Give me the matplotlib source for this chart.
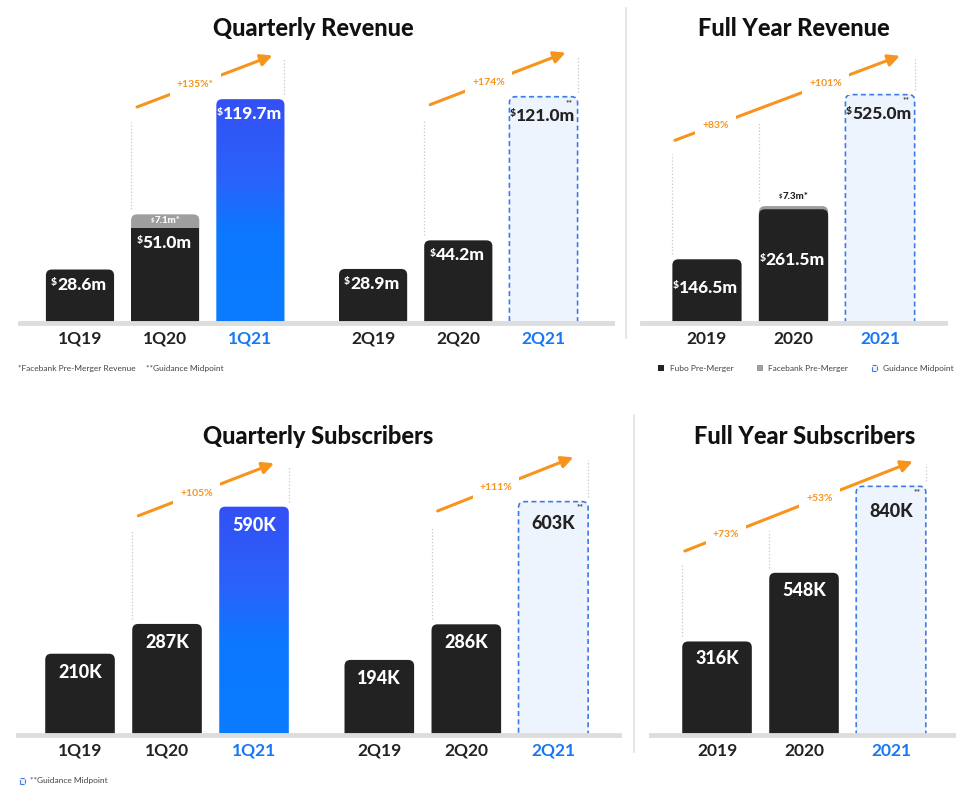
import matplotlib.pyplot as plt
import numpy as np
from matplotlib.patches import FancyBboxPatch, Patch
from matplotlib.colors import LinearSegmentedColormap
from matplotlib.lines import Line2D

plt.rcParams['font.family'] = ['Lato', 'DejaVu Sans']

# ---- data ----
q_rev_labels = ['1Q19', '1Q20', '1Q21', '2Q19', '2Q20', '2Q21']
q_rev_fubo = [28.6, 51.0, 119.7, 28.9, 44.2, 121.0]
q_rev_facebank = [0, 7.1, 0, 0, 0, 0]
q_rev_growth = ['+135%*', '+174%']

fy_rev_labels = ['2019', '2020', '2021']
fy_rev_fubo = [146.5, 261.5, 525.0]
fy_rev_facebank = [0, 7.3, 0]
fy_rev_growth = ['+83%', '+101%']

q_sub_labels = ['1Q19', '1Q20', '1Q21', '2Q19', '2Q20', '2Q21']
q_sub_values = [210, 287, 590, 194, 286, 603]
q_sub_growth = ['+105%', '+111%']

fy_sub_labels = ['2019', '2020', '2021']
fy_sub_values = [316, 548, 840]
fy_sub_growth = ['+73%', '+53%']

# ---- style ----
W, H = 956, 790
BLACK = '#222222'
GREY = '#9E9E9E'
ORANGE = '#F7941D'
BLUE_TXT = '#1877F2'
GUIDE_FC = '#EEF4FD'
GUIDE_EC = '#3D7BE6'
q_kinds = ['fubo', 'fubo', 'actual', 'fubo', 'fubo', 'guide']
fy_kinds = ['fubo', 'fubo', 'guide']
q_pos = [0, 1, 2, 3.44, 4.44, 5.44]
fy_pos = [0, 1, 2]
grad = LinearSegmentedColormap.from_list(
    'g', [(0, '#3450F5'), (0.35, '#2A62FB'), (0.6, '#0C78FF'), (1, '#0A7CFF')])

fig = plt.figure(figsize=(W / 100, H / 100), dpi=100)


def pt(px):
    return px * 0.72


def make_ax(x0, x1, base, top, xlim, scale):
    ax = fig.add_axes([x0 / W, 1 - base / H, (x1 - x0) / W, (base - top) / H])
    ax.axis('off')
    ax.lims = (xlim, (0, (base - top) / scale))
    ax.ppx = (x1 - x0) / (xlim[1] - xlim[0])
    ax.scale = scale
    return ax


def value_label(ax, x, y, text, dollar, color, size, off, va='top'):
    t = ax.annotate(text, xy=(x, y), xytext=(pt(2) if dollar else 0, off),
                    textcoords='offset points', ha='center', va=va,
                    color=color, fontsize=size, fontweight='black', zorder=6)
    if dollar:
        ax.annotate('$', xy=(0, 1), xycoords=t, xytext=(-0.3, -1),
                    textcoords='offset points', ha='right', va='top',
                    color=color, fontsize=size * 0.6, fontweight='black', zorder=6)
    return t


def draw_bars(ax, pos, fubo, extra, kinds, labels, dollar, fmt, size,
              off, guide_off, mid=False):
    bw = 0.8
    r = 6 / ax.ppx
    asp = ax.ppx / ax.scale
    for x, v, e, k, lab in zip(pos, fubo, extra, kinds, labels):
        total = v + e
        box = dict(boxstyle=f'round,pad=0,rounding_size={r}', mutation_aspect=asp)
        if k == 'guide':
            p = FancyBboxPatch((x - bw / 2, -r * asp), bw, total + r * asp,
                               fc=GUIDE_FC, ec=GUIDE_EC, lw=1.2, ls=(0, (3, 2)),
                               zorder=2, **box)
            ax.add_patch(p)
        elif k == 'actual':
            p = FancyBboxPatch((x - bw / 2, -r * asp), bw, total + r * asp,
                               fc='none', ec='none', zorder=2, **box)
            ax.add_patch(p)
            g = np.linspace(0, 1, 256).reshape(-1, 1)
            im = ax.imshow(g, extent=[x - bw / 2, x + bw / 2, 0, total],
                           aspect='auto', cmap=grad, origin='upper', zorder=2)
            im.set_clip_path(p)
        else:
            if e > 0:
                ax.add_patch(FancyBboxPatch((x - bw / 2, -r * asp), bw, total + r * asp,
                                            fc=GREY, ec='none', zorder=2, **box))
                if e * ax.scale > 8:
                    ax.bar(x, v, width=bw, color=BLACK, zorder=2)
                else:
                    ax.add_patch(FancyBboxPatch((x - bw / 2, -r * asp), bw, v + r * asp,
                                                fc=BLACK, ec='none', zorder=2, **box))
            else:
                ax.add_patch(FancyBboxPatch((x - bw / 2, -r * asp), bw, v + r * asp,
                                            fc=BLACK, ec='none', zorder=2, **box))
        # labels
        txt = fmt.format(v)
        if k == 'guide':
            value_label(ax, x, total, txt, dollar, BLACK, size, pt(guide_off))
            ax.annotate('**', xy=(x + bw / 2, total), xytext=(pt(-5), pt(-2)),
                        textcoords='offset points', ha='right', va='top',
                        color='#444444', fontsize=6, fontweight='bold', zorder=6)
        elif mid and k == 'fubo':
            value_label(ax, x, v * 0.55, txt, dollar, 'white', size, 0, va='center')
        else:
            value_label(ax, x, v, txt, dollar, 'white', size, pt(off))
        if e > 0:
            etxt = fmt.format(e) + '*'
            if e * ax.scale > 8:
                value_label(ax, x, v + e / 2, etxt, dollar, 'white', 7, 0, va='center')
            else:
                value_label(ax, x, total, etxt, dollar, BLACK, 7, pt(5), va='bottom')
        col = BLUE_TXT if k in ('actual', 'guide') else BLACK
        ax.annotate(lab, xy=(x, 0), xytext=(0, pt(-16)), textcoords='offset points',
                    ha='center', va='center', color=col, fontsize=12.5, fontweight='bold')
    ax.axhline(0, color='#DDDDDD', lw=3.5, clip_on=False, zorder=3)


def growth(ax, pos, totals, i0, i1, dx0, f0, dx1, f1, labels, ts, full=False):
    M = max(totals[i0:i1 + 1])
    xa, ya = pos[i0] + dx0, f0 * M
    xb, yb = pos[i1] + dx1, f1 * M
    ax.annotate('', xy=(xb, yb), xytext=(xa, ya), annotation_clip=False,
                arrowprops=dict(arrowstyle='-|>,head_length=0.7,head_width=0.35',
                                color=ORANGE, lw=2.2, shrinkA=0, shrinkB=0), zorder=4)
    for lab, t in zip(labels, ts):
        ax.text(xa + t * (xb - xa), ya + t * (yb - ya), lab, ha='center', va='center',
                color=ORANGE, fontsize=7.5, fontweight='bold', zorder=5,
                bbox=dict(fc='white', ec='none', pad=5))

    def arrow_y(x):
        return ya + (x - xa) / (xb - xa) * (yb - ya)

    px = 1 / ax.scale
    left = range(i0, i1) if full else [i0]
    for i in left:
        x = pos[i] - 0.4
        ax.plot([x, x], [totals[i] + 5 * px, arrow_y(x) - 13 * px], ls=':',
                color='#C8C8C8', lw=0.9, zorder=1, clip_on=False)
    x = pos[i1] + 0.4
    ax.plot([x, x], [totals[i1] + 5 * px, yb - 3 * px], ls=':', color='#C8C8C8',
            lw=0.9, zorder=1, clip_on=False)


# ---- panel 1: quarterly revenue ----
ax1 = make_ax(20, 612, 323, 45, (-0.704, 6.244), 1.87)
draw_bars(ax1, q_pos, q_rev_fubo, q_rev_facebank, q_kinds, q_rev_labels,
          True, '{:.1f}m', 12.5, -7, -11)
t1 = [a + b for a, b in zip(q_rev_fubo, q_rev_facebank)]
growth(ax1, q_pos, t1, 1, 2, -0.33, 0.965, 0.26, 1.195, q_rev_growth[:1], [0.43])
growth(ax1, q_pos, t1, 4, 5, -0.33, 0.965, 0.26, 1.195, q_rev_growth[1:], [0.43])

# ---- panel 2: full year revenue ----
ax2 = make_ax(642, 945, 323, 45, (-0.751, 2.751), 0.435)
draw_bars(ax2, fy_pos, fy_rev_fubo, fy_rev_facebank, fy_kinds, fy_rev_labels,
          True, '{:.1f}m', 12.5, -7, -11, mid=True)
t2 = [a + b for a, b in zip(fy_rev_fubo, fy_rev_facebank)]
growth(ax2, fy_pos, t2, 0, 2, -0.37, 0.8, 0.23, 1.17, fy_rev_growth, [0.18, 0.67], full=True)

# ---- panel 3: quarterly subscribers ----
ax3 = make_ax(18, 619, 735, 455, (-0.713, 6.195), 0.387)
draw_bars(ax3, q_pos, q_sub_values, [0] * 6, q_kinds, q_sub_labels,
          False, '{:.0f}K', 13, -10, -13)
growth(ax3, q_pos, q_sub_values, 1, 2, -0.33, 0.96, 0.23, 1.19, q_sub_growth[:1], [0.43])
growth(ax3, q_pos, q_sub_values, 4, 5, -0.33, 0.96, 0.23, 1.19, q_sub_growth[1:], [0.43])

# ---- panel 4: full year subscribers ----
ax4 = make_ax(651, 956, 735, 455, (-0.759, 2.747), 0.296)
draw_bars(ax4, fy_pos, fy_sub_values, [0] * 3, fy_kinds, fy_sub_labels,
          False, '{:.0f}K', 13, -9, -17)
growth(ax4, fy_pos, fy_sub_values, 0, 2, -0.37, 0.74, 0.25, 1.1, fy_sub_growth, [0.18, 0.59], full=True)

for ax in (ax1, ax2, ax3, ax4):
    ax.set_xlim(ax.lims[0])
    ax.set_ylim(ax.lims[1])

# ---- titles ----
for x, y, s in [(313, 28, 'Quarterly Revenue'), (794, 28, 'Full Year Revenue'),
                (318, 437, 'Quarterly Subscribers'), (805, 437, 'Full Year Subscribers')]:
    fig.text(x / W, 1 - y / H, s, ha='center', va='center', fontsize=17,
             fontweight='black', color='#111111')

# ---- dividers ----
fig.add_artist(Line2D([626 / W, 626 / W], [1 - 8 / H, 1 - 338 / H], color='#E2E2E2', lw=1.2))
fig.add_artist(Line2D([634 / W, 634 / W], [1 - 415 / H, 1 - 752 / H], color='#E2E2E2', lw=1.2))

# ---- footnotes / legends ----
fig.text(18 / W, 1 - 368 / H, '*Facebank Pre-Merger Revenue', fontsize=6,
         va='center', color='#444444')
fig.text(146 / W, 1 - 368 / H, '**Guidance Midpoint', fontsize=6,
         va='center', color='#444444')
guide_patch = Patch(fc=GUIDE_FC, ec=GUIDE_EC, ls='--', lw=0.8)
fig.legend([Patch(fc=BLACK), Patch(fc=GREY), guide_patch],
           ['Fubo Pre-Merger', 'Facebank Pre-Merger', 'Guidance Midpoint'],
           loc='center', bbox_to_anchor=(806 / W, 1 - 368 / H), ncol=3, frameon=False,
           fontsize=6, handlelength=0.7, handleheight=0.7, columnspacing=2.8,
           handletextpad=0.7, labelcolor='#444444')
fig.legend([guide_patch], ['**Guidance Midpoint'], loc='center left',
           bbox_to_anchor=(12 / W, 1 - 781 / H), frameon=False, fontsize=6,
           handlelength=0.7, handleheight=0.7, handletextpad=0.5, labelcolor='#444444')

fig.savefig('out.png', dpi=100)
